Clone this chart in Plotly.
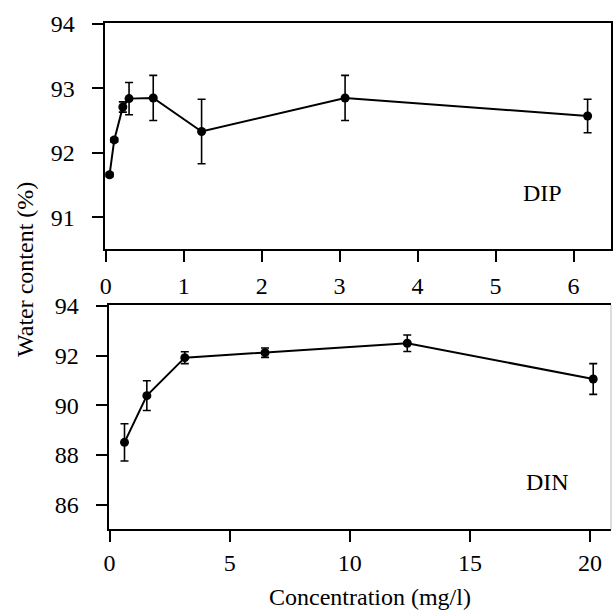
import plotly.graph_objects as go
from plotly.subplots import make_subplots

# DIP panel data
dip_conc = [0.05, 0.11, 0.22, 0.30, 0.61, 1.23, 3.07, 6.18]
dip_water = [91.66, 92.20, 92.71, 92.84, 92.85, 92.33, 92.85, 92.57]
dip_err = [0.03, 0.03, 0.08, 0.25, 0.35, 0.50, 0.35, 0.26]

# DIN panel data
din_conc = [0.62, 1.55, 3.13, 6.47, 12.39, 20.13]
din_water = [88.51, 90.39, 91.92, 92.12, 92.50, 91.06]
din_err = [0.75, 0.60, 0.24, 0.19, 0.33, 0.62]

dip_xticks = [0, 1, 2, 3, 4, 5, 6]
dip_yticks = [91, 92, 93, 94]
din_xticks = [0, 5, 10, 15, 20]
din_yticks = [86, 88, 90, 92, 94]

FONT = "Liberation Serif, Times New Roman, serif"
W = H = 614

fig = make_subplots(rows=2, cols=1)

def add_series(x, y, e, row):
    fig.add_trace(go.Scatter(
        x=x, y=y, mode="lines+markers",
        line=dict(color="black", width=2),
        marker=dict(color="black", size=9, symbol="circle"),
        error_y=dict(type="data", array=e, visible=True, color="black",
                     thickness=1.6, width=4),
        cliponaxis=False, showlegend=False,
    ), row=row, col=1)

add_series(dip_conc, dip_water, dip_err, 1)
add_series(din_conc, din_water, din_err, 2)

axis_common = dict(
    showline=True, linecolor="black", linewidth=2,
    ticks="outside", ticklen=11, tickwidth=1.6, tickcolor="black",
    showgrid=False, zeroline=False, automargin=False,
    tickfont=dict(family=FONT, size=24, color="black"),
)

fig.update_layout(
    template="none",
    width=W, height=H,
    margin=dict(l=0, r=0, t=0, b=0, pad=0),
    paper_bgcolor="white", plot_bgcolor="white",
    font=dict(family=FONT, color="black"),
    xaxis=dict(axis_common, domain=[104.5 / W, 611 / W], range=[-0.015, 6.48],
               tickvals=dip_xticks, mirror=True, anchor="y", ticklabelstandoff=4),
    yaxis=dict(axis_common, domain=[1 - 248.5 / H, 1 - 23.3 / H], range=[90.516, 94.008],
               tickvals=dip_yticks, mirror=True, anchor="x", ticklabelstandoff=12),
    xaxis2=dict(axis_common, domain=[108.5 / W, 611 / W], range=[-0.046, 20.87],
                tickvals=din_xticks, mirror=True, anchor="y2", ticklabelstandoff=0),
    yaxis2=dict(axis_common, domain=[1 - 529.3 / H, 1 - 305 / H], range=[85.01, 94.04],
                tickvals=din_yticks, mirror=False, anchor="x2", ticklabelstandoff=12),
)

# faint right border of lower panel
fig.add_shape(type="line", xref="x2 domain", yref="y2 domain",
              x0=1, x1=1, y0=0, y1=1, line=dict(color="#bbbbbb", width=1))

def label(text, px, py, angle=0):
    fig.add_annotation(text=text, x=px / W, y=1 - py / H, xref="paper", yref="paper",
                       xanchor="center", yanchor="middle", showarrow=False,
                       textangle=angle, font=dict(family=FONT, size=24, color="black"))

label("DIP", 542, 193)
label("DIN", 547, 482)
label("Water content (%)", 25, 270, -90)
label("Concentration (mg/l)", 370, 597)

fig.write_html("out.html")
